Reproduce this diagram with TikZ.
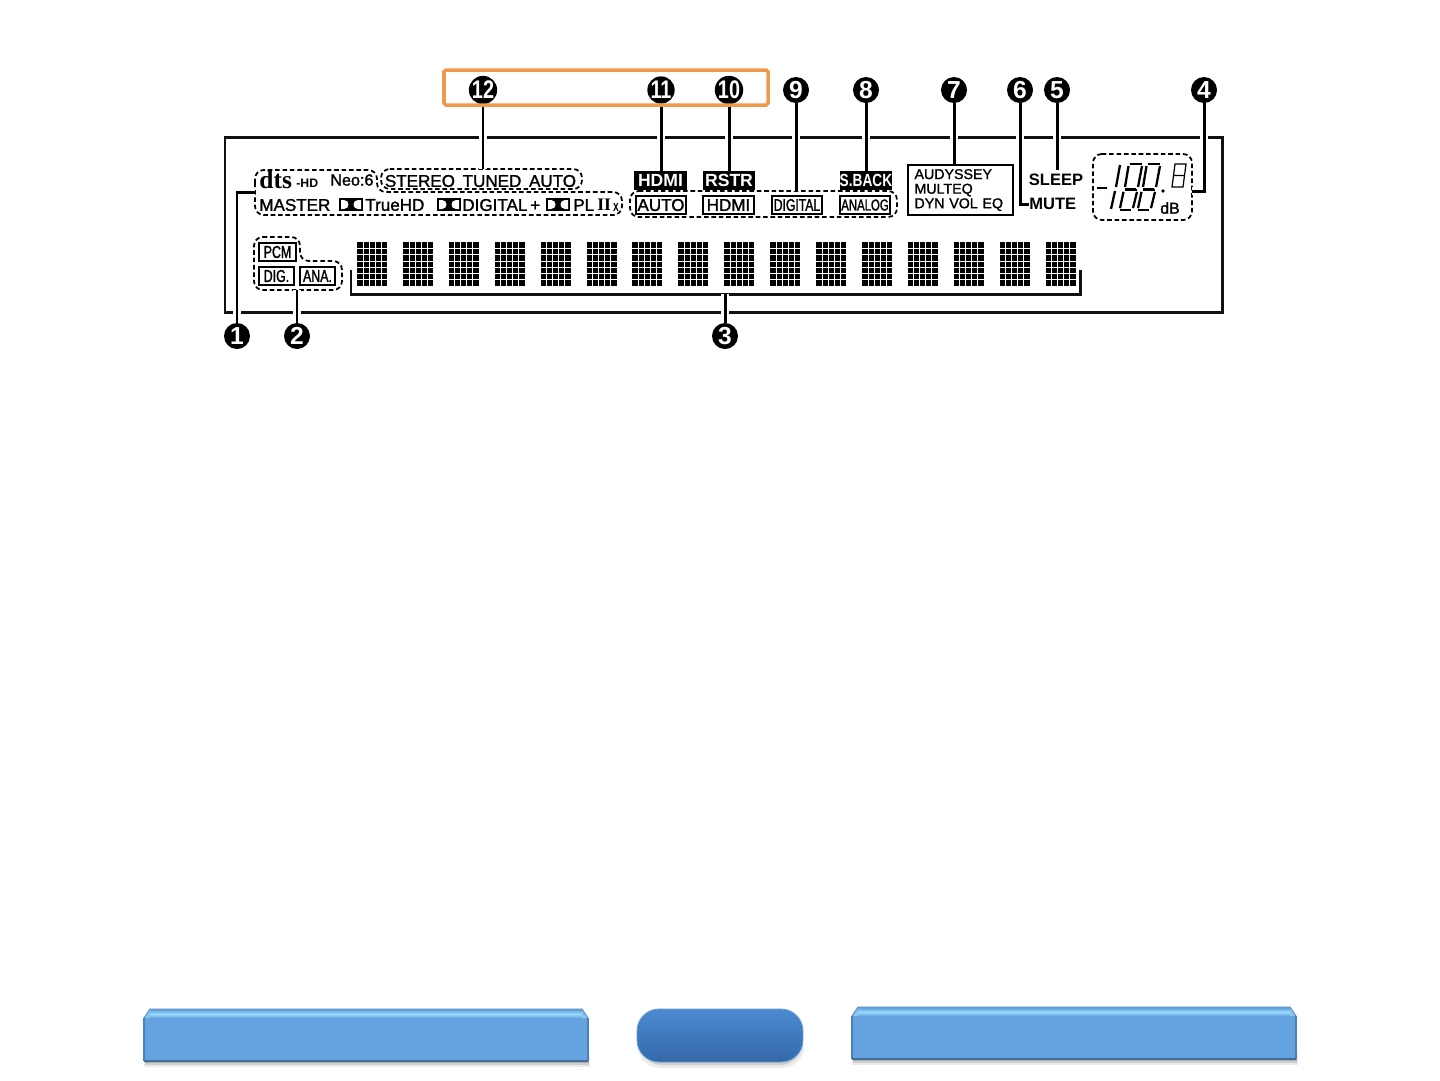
\documentclass[tikz,border=0pt]{standalone}
\usepackage{fontspec}
\setmainfont{Liberation Sans}
\newfontfamily\lcdfont[FakeBold=1.4]{Liberation Sans}
\newfontfamily\condfont[FakeStretch=0.72, FakeBold=1.4]{Liberation Sans}
\newfontfamily\badgecond[FakeStretch=0.78]{Liberation Sans}
\newfontfamily\serifheavy{Liberation Serif}
\usetikzlibrary{positioning, calc}
\definecolor{cframe}{HTML}{111111}
\definecolor{corange}{HTML}{F0994D}
\definecolor{cbar}{HTML}{65A3E0}
\definecolor{cbarlight}{HTML}{9BDBFA}
\definecolor{cbaredge}{HTML}{4F82B2}
\definecolor{cpilltop}{HTML}{4C8AD2}
\definecolor{cpillbot}{HTML}{3469A8}
\tikzset{
  x=0.02cm, y=-0.02cm,
  badge/.style={circle, fill=black, text=white, minimum size=0.52cm, inner sep=0pt, font=\fontsize{14}{14}\selectfont\bfseries},
  badgetwo/.style={badge, font=\fontsize{14.5}{14.5}\badgecond\bfseries},
  frameline/.style={draw=cframe, line width=1.7pt},
  leader/.style={draw=black, line width=1.7pt, preaction={draw=white, line width=4.8pt}},
  group/.style={draw=black, line width=1pt, dash pattern=on 2.6pt off 1.6pt, rounded corners=5pt},
  lcd/.style={inner sep=0pt, font=\fontsize{9.7}{9.7}\lcdfont},
  tagbox/.style={draw=black, line width=1.2pt, inner sep=0pt, minimum height=0.36cm, font=\fontsize{9.7}{9.7}\lcdfont},
  tagcond/.style={tagbox, font=\fontsize{9.8}{9.8}\condfont},
  tagblack/.style={fill=black, text=white, inner sep=0pt, minimum height=0.38cm, font=\fontsize{10}{10}\selectfont\bfseries},
  seg/.style={draw=black, line width=1.3pt},
  charcell/.pic={
    \fill[black] (0,0) rectangle (30,44);
    \foreach \c in {1,...,4} \draw[white, line width=0.42pt] (6*\c,0) -- (6*\c,44);
    \foreach \r in {1,...,6} \draw[white, line width=0.42pt] (0,6.29*\r) -- (30,6.29*\r);
  },
  ddlogo/.pic={
    \fill[black] (0,0) rectangle (24,13);
    \fill[white] (2,2) -- (5,2) .. controls (11,2) and (11,11) .. (5,11) -- (2,11) -- cycle;
    \fill[white] (22,2) -- (19,2) .. controls (13,2) and (13,11) .. (19,11) -- (22,11) -- cycle;
  },
  segdigit/.pic={
    \draw[seg] (2.5,-1) -- (15,-1) (-2.5,24) -- (9,24);
    \draw[seg] (1.5,1) -- (-2,22) (15,1) -- (11,22);
  },
}
\newcommand{\bevelbar}[4]{
  \fill[black, opacity=0.08] (#1,#4-6) rectangle (#3+2,#4+6);
  \fill[black, opacity=0.12] (#1+1,#4-6) rectangle (#3+1,#4+4);
  \fill[black, opacity=0.16] (#1+1,#4-6) rectangle (#3+1,#4+2);
  \fill[cbar] (#1,#2+9) -- (#1+6,#2) -- (#3-6,#2) -- (#3,#2+9) -- (#3,#4) -- (#1,#4) -- cycle;
  \shade[top color=cbar, bottom color=cbar, middle color=cbarlight] (#1+6,#2+1) -- (#3-6,#2+1) -- (#3-3,#2+9) -- (#1+3,#2+9) -- cycle;
  \fill[cbarlight!60!cbar] (#1,#2+9) -- (#1+6,#2) -- (#1+6,#2+9) -- cycle;
  \fill[cbarlight!60!cbar] (#3,#2+9) -- (#3-6,#2) -- (#3-6,#2+9) -- cycle;
  \draw[cbar!85!black, line width=0.5pt] (#1,#2+9) -- (#1+6,#2) -- (#3-6,#2) -- (#3,#2+9);
  \draw[cbaredge, line width=0.7pt] (#3,#2+9) -- (#3,#4) (#1,#4) -- (#1,#2+9);
  \draw[cbaredge!85!black, line width=1.2pt] (#3,#4) -- (#1,#4);
}

\begin{document}
\begin{tikzpicture}
  \useasboundingbox (0,0) rectangle (1440,1080);
  \draw[frameline] (225,137) rectangle (1222,312);

  \foreach \n/\x/\y in {1/237/336,2/297/336,3/725/336,4/1204/90,5/1057/90,6/1020/90,7/954/90,8/866/90,9/796/90} {
    \node[badge] (b\n) at (\x,\y) {\n};
  }
  \foreach \n/\x in {10/729,11/661,12/483} {
    \node[badgetwo] (b\n) at (\x,90) {\n};
  }

  \draw[group] (255,192) -- (255,170) -- (377,170) -- (377,192) -- (622,192) -- (622,215) -- (255,215) -- cycle;
  \draw[group] (381,169) -- (582,169) -- (582,189) -- (381,189) -- cycle;
  \draw[group] (254,237) -- (300,237) -- (300,261) -- (342,261) -- (342,290) -- (254,290) -- cycle;
  \draw[group] (630,191) -- (897,191) -- (897,217) -- (630,217) -- cycle;
  \draw[group] (1093,154) -- (1192,154) -- (1192,220) -- (1093,220) -- cycle;
  \coordinate (dtsedge) at (255,192);
  \coordinate (stereotop) at (483,169);
  \coordinate (inputbottom) at (297,290);
  \coordinate (sourcetop) at (796,191);
  \coordinate (volumeedge) at (1192,191);

  \node[lcd, font=\fontsize{14.5}{14.5}\serifheavy\bfseries, anchor=west] (dts) at (259,180) {dts};
  \node[lcd, font=\fontsize{7}{7}\selectfont\bfseries, anchor=west] (hd) at (296,183) {-HD};
  \node[lcd, font=\fontsize{9.2}{9.2}\lcdfont, anchor=west] (neo) at (330,180) {Neo:6};
  \node[lcd, anchor=center] (stereo) at (480.5,181) {STEREO\hspace{0.45em}TUNED\hspace{0.45em}AUTO};
  \node[lcd, anchor=west] (master) at (259,205) {MASTER};
  \pic at (339,198) {ddlogo};
  \node[lcd, anchor=west] (truehd) at (365,205) {TrueHD};
  \pic at (437,198) {ddlogo};
  \node[lcd, anchor=west] (digitalplus) at (462,205) {DIGITAL\,+};
  \pic at (546,198) {ddlogo};
  \node[lcd, anchor=west] (pl) at (573,205) {PL};
  \node[lcd, font=\fontsize{10}{10}\serifheavy\bfseries, anchor=west] (plii) at (597,205) {II};
  \node[lcd, font=\fontsize{8}{8}\condfont, anchor=west] (plx) at (613,207) {x};

  \node[tagcond, minimum width=0.74cm] (pcm) at (277.5,252) {PCM};
  \node[tagcond, minimum width=0.70cm] (dig) at (276.5,276) {DIG.};
  \node[tagcond, minimum width=0.70cm] (ana) at (317.5,276) {ANA.};

  \node[tagblack, minimum width=1.06cm] (hdmiflag) at (660.5,180.5) {HDMI};
  \node[tagblack, minimum width=1.04cm] (rstr) at (729,180.5) {RSTR};
  \node[tagblack, minimum width=1.04cm, font=\fontsize{10}{10}\badgecond\bfseries] (sback) at (866,180.5) {S.BACK};
  \node[tagbox, minimum width=1cm] (auto) at (661,205) {AUTO};
  \node[tagbox, minimum width=1.02cm] (hdmi) at (728.5,205) {HDMI};
  \node[tagcond, minimum width=1cm, font=\fontsize{9.6}{9.6}\condfont] (digital) at (797,205) {DIGITAL};
  \node[tagcond, minimum width=1cm, font=\fontsize{9}{9}\condfont] (analog) at (865,205) {ANALOG};

  \node[draw=black, line width=1pt, minimum width=2.1cm, minimum height=1cm, inner sep=0pt, align=left, text width=1.84cm, font=\fontsize{8.1}{8.3}\lcdfont] (audyssey) at (960.5,190) {AUDYSSEY\\MULTEQ\\DYN VOL EQ};
  \node[lcd, font=\fontsize{9.4}{9.4}\selectfont\bfseries, inner sep=2pt] (sleep) at (1056,180) {SLEEP};
  \node[lcd, font=\fontsize{9.4}{9.4}\selectfont\bfseries, anchor=west] (mute) at (1029,204) {MUTE};

  \foreach \x in {0,...,15} {
    \pic at (357+45.9*\x,242) {charcell};
  }
  \draw[frameline] (351,270) -- (351,294) -- (1080,294) -- (1080,270);
  \coordinate (cellbase) at (725,294);

  \draw[seg, line width=1.6pt] (1097,188) -- (1107,188);
  \draw[seg] (1120,165) -- (1116,187);
  \pic at (1127,165) {segdigit};
  \pic at (1145,165) {segdigit};
  \draw[seg] (1115,191) -- (1111,209);
  \pic[yscale=0.78] at (1122,191) {segdigit};
  \pic[yscale=0.78] at (1140,191) {segdigit};
  \fill[black] (1163,191) circle (1.9);
  \draw[seg, line width=0.7pt] (1175,164) -- (1186,164) -- (1183,187) -- (1172,187) -- cycle (1174,175.5) -- (1185,175.5);
  \node[lcd, font=\fontsize{9}{9}\lcdfont] (db) at (1170,208) {dB};

  \draw[leader] (b1) |- (dtsedge);
  \draw[leader] (b2) -- (inputbottom);
  \draw[leader] (b3) -- (cellbase);
  \draw[leader] (b4) |- (volumeedge);
  \draw[leader] (b5) -- (b5 |- sleep.north);
  \draw[leader] (b6) |- (mute.west);
  \draw[leader] (b7) -- (b7 |- audyssey.north);
  \draw[leader] (b8) -- (b8 |- sback.north);
  \draw[leader] (b9) -- (sourcetop);
  \draw[leader] (b10) -- (b10 |- rstr.north);
  \draw[leader] (b11) -- (b11 |- hdmiflag.north);
  \draw[leader] (b12) -- (stereotop);

  \draw[corange, line width=2pt, rounded corners=1pt] (444,70) rectangle (768,105);

  \bevelbar{144}{1009}{588}{1061}
  \bevelbar{852}{1007}{1296}{1059}
  \fill[black, opacity=0.08, rounded corners=0.44cm] (638,1030) rectangle (804,1068);
  \fill[black, opacity=0.12, rounded corners=0.44cm] (640,1030) rectangle (802,1065);
  \node[draw=cpilltop!85!white, line width=0.5pt, rounded corners=0.44cm, top color=cpilltop, bottom color=cpillbot, minimum width=3.32cm, minimum height=1.06cm, inner sep=0pt] (pill) at (720,1035.5) {};
\end{tikzpicture}
\end{document}
